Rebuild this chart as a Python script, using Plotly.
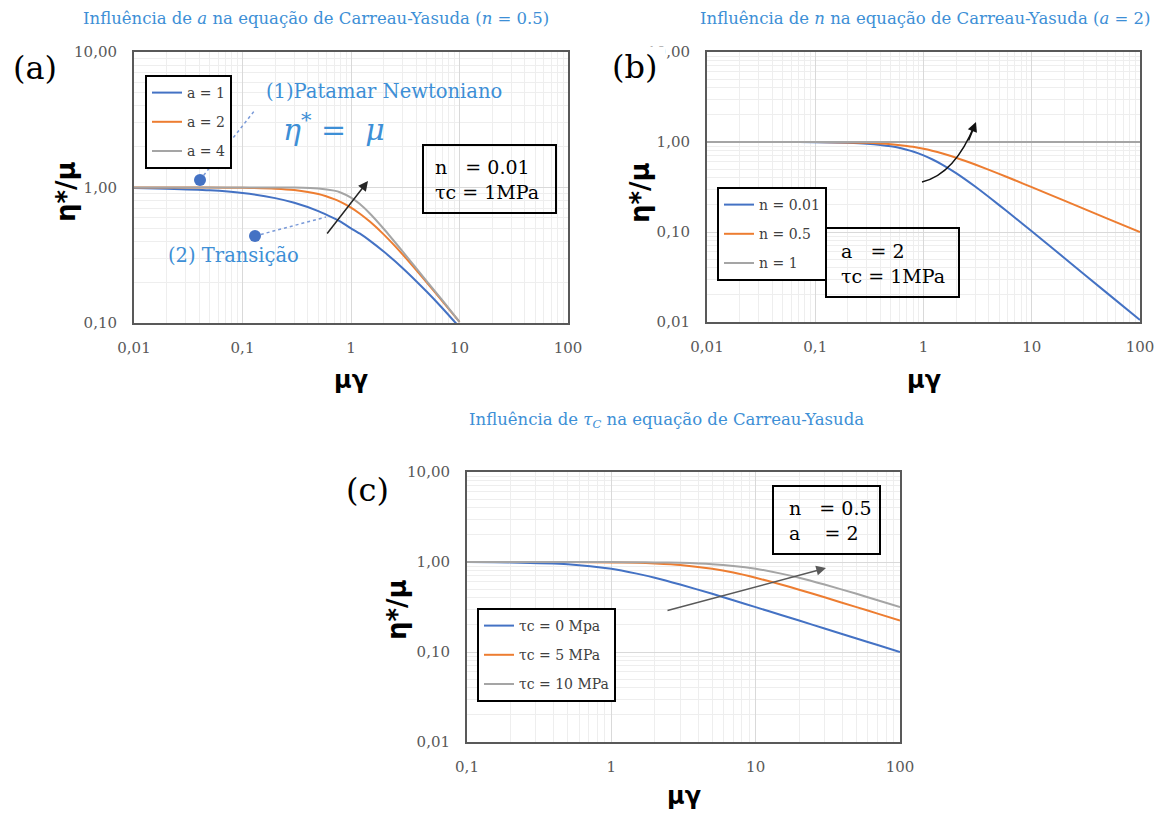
import plotly.graph_objects as go

W, H = 1164, 813

# ---------------- data ----------------
# Panel (a): influence of a
xa = [0.01, 0.02, 0.05, 0.1, 0.2, 0.3, 0.5, 0.7, 0.8, 1, 1.2, 1.5, 2, 3, 5, 7, 10]
a1 = [0.99, 0.98, 0.953, 0.91, 0.835, 0.771, 0.67, 0.591, 0.559, 0.50, 0.458, 0.404, 0.337, 0.254, 0.170, 0.128, 0.093]
a2 = [1.0, 1.0, 0.999, 0.995, 0.981, 0.958, 0.895, 0.82, 0.783, 0.71, 0.643, 0.558, 0.451, 0.32, 0.199, 0.144, 0.102]
a4 = [1.0, 1.0, 1.0, 1.0, 1.0, 0.998, 0.985, 0.948, 0.919, 0.842, 0.758, 0.640, 0.496, 0.336, 0.203, 0.146, 0.102]
labels_a = ["a = 1", "a = 2", "a = 4"]

# Panel (b): influence of n
xb = [0.01, 0.02, 0.05, 0.1, 0.2, 0.3, 0.5, 0.7, 0.8, 1, 1.2, 1.5, 2, 3, 5, 7, 10, 20, 50, 100]
n001 = [1.0, 1.0, 0.999, 0.995, 0.981, 0.958, 0.895, 0.82, 0.783, 0.71, 0.643, 0.558, 0.451, 0.32, 0.199, 0.144, 0.102, 0.0515, 0.0208, 0.0105]
n05 = [1.0, 1.0, 0.999, 0.9975, 0.990, 0.979, 0.946, 0.905, 0.884, 0.841, 0.800, 0.745, 0.669, 0.562, 0.443, 0.376, 0.315, 0.2235, 0.141, 0.100]
n1 = [1.0, 1.0, 1.0, 1.0, 1.0, 1.0, 1.0, 1.0, 1.0, 1.0, 1.0, 1.0, 1.0, 1.0, 1.0, 1.0, 1.0, 1.0, 1.0, 1.0]
labels_b = ["n = 0.01", "n = 0.5", "n = 1"]

# Panel (c): influence of tau_c
xc = [0.1, 0.2, 0.5, 1, 1.5, 2, 3, 5, 7, 10, 15, 20, 30, 50, 70, 100]
t0 = [0.9975, 0.990, 0.946, 0.841, 0.743, 0.669, 0.562, 0.443, 0.376, 0.315, 0.258, 0.2235, 0.1825, 0.141, 0.1195, 0.100]
t5 = [1.0, 1.0, 0.9975, 0.990, 0.979, 0.963, 0.928, 0.841, 0.765, 0.669, 0.562, 0.4925, 0.405, 0.315, 0.267, 0.2235]
t10 = [1.0, 1.0, 0.999, 0.9975, 0.9945, 0.990, 0.979, 0.946, 0.905, 0.841, 0.743, 0.669, 0.562, 0.443, 0.376, 0.315]
labels_c = ["τc = 0 Mpa", "τc = 5 MPa", "τc = 10 MPa"]

COLORS = ["#4472C4", "#ED7D31", "#A5A5A5"]

# ---------------- helpers ----------------
def px(x):
    return x / W

def py(y):
    return 1 - y / H

SERIF = "DejaVu Serif"
SANS = "DejaVu Sans"
BLUE_TXT = "#3D8FD6"

fig = go.Figure()

def add_series(xs, ys_list, labels, xaxis, yaxis, legend):
    for i, (ys, lab) in enumerate(zip(ys_list, labels)):
        fig.add_trace(go.Scatter(
            x=xs, y=ys, mode="lines", name=lab,
            line=dict(color=COLORS[i], width=2, shape="spline", smoothing=0.6),
            xaxis=xaxis, yaxis=yaxis, legend=legend,
            legendgroup=f"{legend}_{i}", hoverinfo="skip",
        ))

add_series(xa, [a1, a2, a4], labels_a, "x", "y", "legend")
add_series(xb, [n001, n05, n1], labels_b, "x2", "y2", "legend2")
add_series(xc, [t0, t5, t10], labels_c, "x3", "y3", "legend3")


def axis(domain, rng, anchor, is_x):
    return dict(
        type="log", domain=domain, range=rng, anchor=anchor,
        showline=True, mirror=True, linecolor="#595959", linewidth=2,
        showgrid=True, gridcolor="#d9d9d9", gridwidth=1,
        minor=dict(dtick="D1", showgrid=True, gridcolor="#eeeeee", gridwidth=1, ticks=""),
        ticks="", dtick=1, tick0=0,
        tickformat="~g" if is_x else ".2f",
        ticklabelstandoff=10 if is_x else 12,
        tickfont=dict(family=SERIF, size=15, color="#595959"),
        zeroline=False, fixedrange=True, automargin=False,
    )

# plot-area pixel boxes: (left, right, top, bottom)
A = (134, 568, 52, 323)
B = (707, 1140, 52, 322)
C = (467, 900, 472, 742)

def dom(box):
    l, r, t, b = box
    return [px(l), px(r)], [py(b), py(t)]

dxa, dya = dom(A)
dxb, dyb = dom(B)
dxc, dyc = dom(C)

legend_common = dict(
    xanchor="left", yanchor="top", bordercolor="#000000", borderwidth=2,
    bgcolor="white", font=dict(family=SERIF, size=14, color="#404040"),
    tracegroupgap=8, itemwidth=30,
)

fig.update_layout(
    width=W, height=H, margin=dict(l=0, r=0, t=0, b=0, autoexpand=False),
    paper_bgcolor="white", plot_bgcolor="white",
    separators=",.",
    xaxis=axis(dxa, [-2, 2], "y", True),
    yaxis=axis(dya, [-1, 1], "x", False),
    xaxis2=axis(dxb, [-2, 2], "y2", True),
    yaxis2=axis(dyb, [-2, 1], "x2", False),
    xaxis3=axis(dxc, [-1, 2], "y3", True),
    yaxis3=axis(dyc, [-2, 1], "x3", False),
    legend=dict(x=px(145), y=py(75), **legend_common),
    legend2=dict(x=px(717), y=py(187), **legend_common),
    legend3=dict(x=px(477), y=py(608), **legend_common),
    showlegend=True,
)

ann = []
def text(xp, yp, t, size, color="#000000", family=SERIF, xanchor="center", **kw):
    ann.append(dict(x=px(xp), y=py(yp), xref="paper", yref="paper", text=t,
                    showarrow=False, xanchor=xanchor, yanchor="middle",
                    font=dict(family=family, size=size, color=color), **kw))

# titles
text(316, 18, "Influência de <i>a</i> na equação de Carreau-Yasuda (<i>n</i> = 0.5)", 16.5, BLUE_TXT)
text(925, 18, "Influência de <i>n</i> na equação de Carreau-Yasuda (<i>a</i> = 2)", 16.5, BLUE_TXT)
text(666, 420, "Influência de <i>τ<sub>C</sub></i> na equação de Carreau-Yasuda", 16.5, BLUE_TXT)

# panel letters
text(35, 68, "(a)", 32)
text(610, 67, "(b)", 32, xanchor="left", bgcolor="white", width=52, align="left")
text(367, 490, "(c)", 32)

# axis titles
for (xp, yp) in [(66, 192), (640, 193), (397, 610)]:
    text(xp, yp, "<b>η*/μ</b>", 26, family=SANS, textangle=-90)
for (xp, yp) in [(351, 380), (924, 380), (684, 796)]:
    text(xp, yp, "<b>μγ</b>", 24, family=SANS)

# panel (a) notes
text(384, 91, "(1)Patamar Newtoniano", 19.5, BLUE_TXT)
text(334, 128, "<i>η</i><sup>*</sup> =  <i>μ</i>", 30, BLUE_TXT)
text(233, 256, "(2) Transição", 19.5, BLUE_TXT)

# parameter boxes text
text(433, 179, "n&nbsp;&nbsp;&nbsp;= 0.01<br>τc = 1MPa", 19, xanchor="left", align="left")
text(839, 263, "a&nbsp;&nbsp;&nbsp;= 2<br>τc = 1MPa", 19, xanchor="left", align="left")
text(787, 520, "n&nbsp;&nbsp;&nbsp;= 0.5<br>a&nbsp;&nbsp;&nbsp;&nbsp;= 2", 19, xanchor="left", align="left")

# arrows
def arrow(tip, tail, color, width=1.5):
    ann.append(dict(x=px(tip[0]), y=py(tip[1]), xref="paper", yref="paper",
                    ax=tail[0] - tip[0], ay=tail[1] - tip[1], axref="pixel", ayref="pixel",
                    text="", showarrow=True, arrowhead=2, arrowsize=1.3,
                    arrowwidth=width, arrowcolor=color))

arrow((368, 181), (326, 235), "#262626")
arrow((826, 568), (666, 611), "#595959")
# curved arrow head for (b)
arrow((976, 122), (968, 142), "#111111")

fig.update_layout(annotations=ann)

shapes = []
def rect(l, t, r, b):
    shapes.append(dict(type="rect", xref="paper", yref="paper",
                       x0=px(l), x1=px(r), y0=py(b), y1=py(t),
                       line=dict(color="#000000", width=2), fillcolor="rgba(0,0,0,0)"))

rect(423, 145, 556, 213)
rect(826, 228, 959, 297)
rect(773, 486, 880, 554)

def dot(cx, cy, r=6):
    shapes.append(dict(type="circle", xref="paper", yref="paper",
                       x0=px(cx - r), x1=px(cx + r), y0=py(cy + r), y1=py(cy - r),
                       line=dict(color="#4472C4", width=0), fillcolor="#4472C4"))

def dline(p0, p1):
    shapes.append(dict(type="line", xref="paper", yref="paper",
                       x0=px(p0[0]), y0=py(p0[1]), x1=px(p1[0]), y1=py(p1[1]),
                       line=dict(color="#7A9AD8", width=1.5, dash="dot")))

dline((200, 180), (255, 110))
dline((255, 236), (326, 217))
dot(200, 180)
dot(255, 236)

# curved arrow (b) body: quadratic bezier in paper coords
p0 = (922, 182); c = (955, 174); p2 = (975, 124)
shapes.append(dict(type="path", xref="paper", yref="paper",
                   path=f"M {px(p0[0])},{py(p0[1])} Q {px(c[0])},{py(c[1])} {px(p2[0])},{py(p2[1])}",
                   line=dict(color="#111111", width=1.5)))

fig.update_layout(shapes=shapes)

fig.write_html("out.html")
